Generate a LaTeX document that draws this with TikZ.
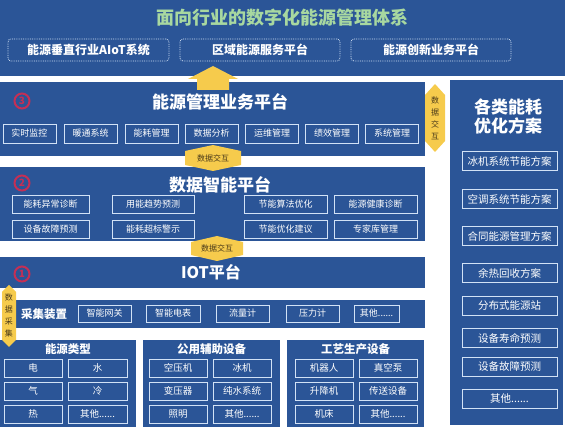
\documentclass[tikz,border=0pt]{standalone}
\usepackage{fontspec}
\setmainfont{Noto Sans CJK SC}
\usetikzlibrary{positioning}
\definecolor{panelblue}{HTML}{2B5597}
\definecolor{boxline}{HTML}{D2E2F6}
\definecolor{tagyellow}{HTML}{F6CB4C}
\definecolor{tagtext}{HTML}{4A3A1A}
\definecolor{titlegreen}{HTML}{A8D8A0}
\definecolor{numred}{HTML}{C42F55}
\tikzset{
  panel/.style={fill=panelblue},
  item/.style={draw=boxline, line width=0.8pt, text=white, inner sep=0pt,
    minimum height=18, font=\fontsize{9}{9}\selectfont},
  sidebox/.style={item, minimum width=95, minimum height=19, font=\fontsize{10.5}{10.5}\selectfont},
  dashbox/.style={draw=boxline, densely dotted, line width=0.8pt, rounded corners=3pt,
    minimum height=22, minimum width=160, text=white, font=\bfseries\fontsize{12}{12}\selectfont},
  platetitle/.style={text=white, font=\bfseries\fontsize{17}{17}\selectfont},
  subtitle/.style={text=white, font=\bfseries\fontsize{11.5}{11.5}\selectfont},
  numcircle/.style={circle, draw=numred, line width=2pt, text=numred, inner sep=0pt,
    minimum size=15, font=\bfseries\fontsize{10}{10}\selectfont},
  tagword/.style={text=tagtext, font=\fontsize{8}{12}\selectfont, align=center},
}
\begin{document}
\begin{tikzpicture}[x=1pt, y=-1pt]
  \useasboundingbox (0,0) rectangle (565,427);
  % top band
  \fill[panel] (0,0) rectangle (565,76);
  \node[text=titlegreen, font=\bfseries\fontsize{18}{18}\selectfont] (title) at (282,18) {面向行业的数字化能源管理体系};
  \node[dashbox, minimum width=161] (aiot) at (88.5,50) {能源垂直行业AIoT系统};
  \node[dashbox] (area) at (260,50) {区域能源服务平台};
  \node[dashbox] (innov) at (431,50) {能源创新业务平台};

  % panels
  \fill[panel] (0,82) rectangle (425,156);
  \fill[panel] (0,167) rectangle (425,241);
  \fill[panel] (0,257) rectangle (425,288);
  \fill[panel] (14,300) rectangle (425,328);
  \fill[panel] (0,340) rectangle (136,427);
  \fill[panel] (143,340) rectangle (280,427);
  \fill[panel] (287,340) rectangle (424,427);
  \fill[panel] (450,80) rectangle (563,425);

  % yellow arrows
  \fill[tagyellow] (213,66) -- (238,79) -- (229,79) -- (229,90) -- (197,90) -- (197,79) -- (188,79) -- cycle;
  \fill[tagyellow] (185,151) -- (213,145) -- (241,151) -- (241,165) -- (213,171) -- (185,165) -- cycle;
  \fill[tagyellow] (191,242) -- (217,236) -- (243,242) -- (243,255) -- (217,261) -- (191,255) -- cycle;
  \fill[tagyellow] (435,84) -- (445,95) -- (445,141) -- (435,152) -- (425,141) -- (425,95) -- cycle;
  \fill[tagyellow] (9,285) -- (16,292) -- (16,340) -- (9,347) -- (2,340) -- (2,292) -- cycle;
  \node[tagword] (swap1) at (213,158) {数据交互};
  \node[tagword] (swap2) at (217,248.5) {数据交互};
  \node[tagword] (swap3) at (435,118) {数\\据\\交\\互};
  \node[tagword] (collect) at (9,315) {数\\据\\采\\集};

  % energy business platform
  \node[numcircle] (n3) at (22,101) {3};
  \node[platetitle] (biz) at (220,102) {能源管理业务平台};
  \node[item, minimum width=53, minimum height=19] (b1) at (29.5,133.5) {实时监控};
  \node[item, minimum width=53, minimum height=19] (b2) at (90.5,133.5) {暖通系统};
  \node[item, minimum width=53, minimum height=19] (b3) at (151.5,133.5) {能耗管理};
  \node[item, minimum width=53, minimum height=19] (b4) at (211.5,133.5) {数据分析};
  \node[item, minimum width=53, minimum height=19] (b5) at (272,133.5) {运维管理};
  \node[item, minimum width=53, minimum height=19] (b6) at (332,133.5) {绩效管理};
  \node[item, minimum width=53, minimum height=19] (b7) at (392,133.5) {系统管理};

  % data intelligence platform
  \node[numcircle] (n2) at (22,183) {2};
  \node[platetitle] (data) at (220,185) {数据智能平台};
  \node[item, minimum width=77] (d1) at (50.5,204) {能耗异常诊断};
  \node[item, minimum width=82] (d2) at (153,204) {用能趋势预测};
  \node[item, minimum width=83] (d3) at (285.5,204) {节能算法优化};
  \node[item, minimum width=83] (d4) at (375.5,204) {能源健康诊断};
  \node[item, minimum width=77] (d5) at (50.5,229) {设备故障预测};
  \node[item, minimum width=82] (d6) at (153,229) {能耗超标警示};
  \node[item, minimum width=83] (d7) at (285.5,229) {节能优化建议};
  \node[item, minimum width=83] (d8) at (375.5,229) {专家库管理};

  % iot platform
  \node[numcircle] (n1) at (22,274) {1};
  \node[platetitle, font=\bfseries\fontsize{16}{16}\selectfont] (iot) at (211,272) {IOT平台};
  \node[subtitle] (dev) at (44,314) {采集装置};
  \node[item, minimum width=53, minimum height=17] (c1) at (104.5,313.5) {智能网关};
  \node[item, minimum width=54, minimum height=17] (c2) at (173,313.5) {智能电表};
  \node[item, minimum width=53, minimum height=17] (c3) at (242.5,313.5) {流量计};
  \node[item, minimum width=53, minimum height=17] (c4) at (312.5,313.5) {压力计};
  \node[item, minimum width=45, minimum height=17] (c5) at (376.5,313.5) {其他......};

  % energy types
  \node[subtitle] (kind) at (68,349) {能源类型};
  \node[item, minimum width=58, font=\fontsize{9.5}{9.5}\selectfont] (e1) at (33,368) {电};
  \node[item, minimum width=59, font=\fontsize{9.5}{9.5}\selectfont] (e2) at (97.5,368) {水};
  \node[item, minimum width=58, font=\fontsize{9.5}{9.5}\selectfont] (e3) at (33,391) {气};
  \node[item, minimum width=59, font=\fontsize{9.5}{9.5}\selectfont] (e4) at (97.5,391) {冷};
  \node[item, minimum width=58, font=\fontsize{9.5}{9.5}\selectfont] (e5) at (33,414) {热};
  \node[item, minimum width=59, font=\fontsize{9.5}{9.5}\selectfont] (e6) at (97.5,414) {其他......};

  % public auxiliary equipment
  \node[subtitle] (aux) at (211.5,349) {公用辅助设备};
  \node[item, minimum width=58, font=\fontsize{9.5}{9.5}\selectfont] (a1) at (178,368) {空压机};
  \node[item, minimum width=58, font=\fontsize{9.5}{9.5}\selectfont] (a2) at (242,368) {冰机};
  \node[item, minimum width=58, font=\fontsize{9.5}{9.5}\selectfont] (a3) at (178,391) {变压器};
  \node[item, minimum width=58, font=\fontsize{9.5}{9.5}\selectfont] (a4) at (242,391) {纯水系统};
  \node[item, minimum width=58, font=\fontsize{9.5}{9.5}\selectfont] (a5) at (178,414) {照明};
  \node[item, minimum width=58, font=\fontsize{9.5}{9.5}\selectfont] (a6) at (242,414) {其他......};

  % process production equipment
  \node[subtitle] (proc) at (355.5,349) {工艺生产设备};
  \node[item, minimum width=58, font=\fontsize{9.5}{9.5}\selectfont] (p1) at (324,368) {机器人};
  \node[item, minimum width=58, font=\fontsize{9.5}{9.5}\selectfont] (p2) at (388,368) {真空泵};
  \node[item, minimum width=58, font=\fontsize{9.5}{9.5}\selectfont] (p3) at (324,391) {升降机};
  \node[item, minimum width=58, font=\fontsize{9.5}{9.5}\selectfont] (p4) at (388,391) {传送设备};
  \node[item, minimum width=58, font=\fontsize{9.5}{9.5}\selectfont] (p5) at (324,414) {机床};
  \node[item, minimum width=58, font=\fontsize{9.5}{9.5}\selectfont] (p6) at (388,414) {其他......};

  % optimisation schemes
  \node[platetitle, align=center, font=\bfseries\fontsize{17}{19}\selectfont] (plan) at (508,116) {各类能耗\\优化方案};
  \node[sidebox] (s1) at (509.5,161) {冰机系统节能方案};
  \node[sidebox] (s2) at (509.5,199) {空调系统节能方案};
  \node[sidebox] (s3) at (509.5,236) {合同能源管理方案};
  \node[sidebox] (s4) at (509.5,273) {余热回收方案};
  \node[sidebox] (s5) at (509.5,306) {分布式能源站};
  \node[sidebox] (s6) at (509.5,338) {设备寿命预测};
  \node[sidebox] (s7) at (509.5,367) {设备故障预测};
  \node[sidebox] (s8) at (509.5,399) {其他......};
\end{tikzpicture}
\end{document}
